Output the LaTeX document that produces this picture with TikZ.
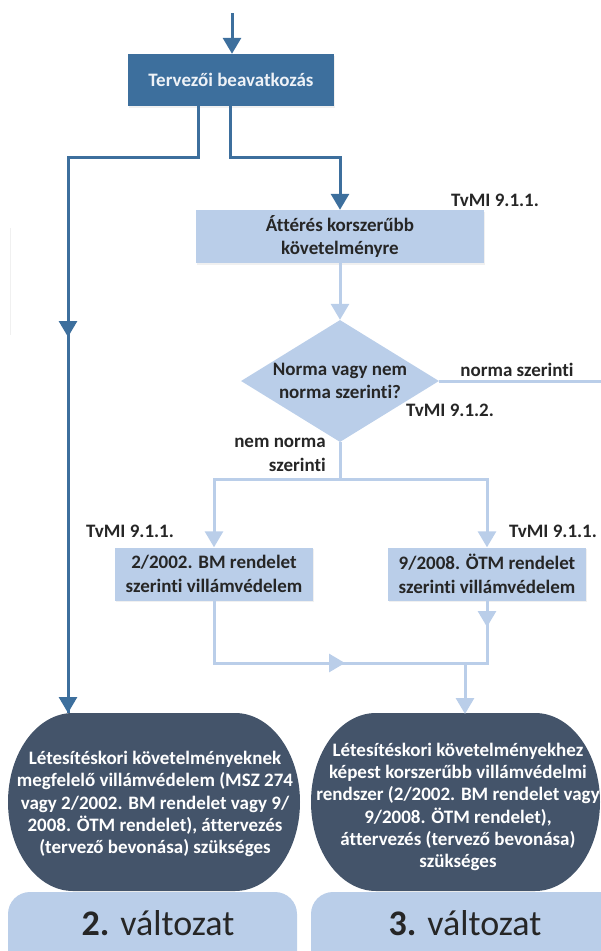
\documentclass[tikz,border=0pt]{standalone}
\usepackage{fontspec}
\setmainfont{Carlito}[Ligatures={NoCommon}]
\usetikzlibrary{arrows.meta,shapes.geometric,shadows}
\definecolor{darkblue}{RGB}{61,111,157}
\definecolor{lightblue}{RGB}{186,206,233}
\definecolor{lightln}{RGB}{186,206,233}
\definecolor{slate}{RGB}{68,84,106}
\definecolor{txt}{RGB}{38,38,38}
\definecolor{paletext}{RGB}{238,242,247}
\begin{document}
\begin{tikzpicture}[x=1pt,y=-1pt,
  every node/.style={font=\fontsize{19}{23.5}\selectfont\bfseries},
  softshadow/.style={drop shadow={opacity=0.12,shadow xshift=1.2pt,shadow yshift=-1.5pt}},
  darkbox/.style={fill=darkblue, text=paletext, minimum width=206pt, minimum height=52pt, inner sep=0pt, softshadow},
  lightbox/.style={fill=lightblue, text=txt, align=center, inner sep=0pt, softshadow},
  diabox/.style={diamond, fill=lightblue, minimum width=198pt, minimum height=122pt, inner sep=0pt},
  darkarrow/.style={draw=darkblue, line width=3pt, -{Triangle[width=18pt,length=16pt]}},
  lightarrow/.style={draw=lightln, line width=3pt, -{Triangle[width=18pt,length=16pt]}},
  darkplain/.style={draw=darkblue, line width=3pt},
  lightplain/.style={draw=lightln, line width=3pt},
  lbl/.style={text=txt, inner sep=0pt},
  ovaltext/.style={text=white, align=center, inner sep=0pt, font=\fontsize{19}{22.2}\selectfont\bfseries},
  vartext/.style={text=txt, inner sep=0pt, anchor=base, font=\fontsize{36}{40}\selectfont}
]
\useasboundingbox (0,0) rectangle (601,951);
\clip (0,0) rectangle (601,951);

% faint mark at left edge
\draw[black!6, line width=1pt] (10,228) -- (10,335);

% bottom variant boxes
\fill[lightblue, rounded corners=22pt] (8,892) rectangle (297,980);
\fill[lightblue, rounded corners=22pt] (311,892) rectangle (630,980);
\node[vartext] (v2) at (158,935) {\textbf{2.} \mdseries változat};
\node[vartext] (v3) at (465,935) {\textbf{3.} \mdseries változat};

% ovals
\fill[slate] (73,713) -- (235,713) arc[start angle=-90, end angle=90, x radius=65, y radius=89]
  -- (73,891) arc[start angle=90, end angle=270, x radius=65, y radius=89] -- cycle;
\fill[slate] (376,713) -- (535,713) arc[start angle=-90, end angle=90, x radius=65, y radius=89]
  -- (376,891) arc[start angle=90, end angle=270, x radius=65, y radius=89] -- cycle;
\node[ovaltext] (ovL) at (155,804) {Létesítéskori követelményeknek\\megfelelő villámvédelem (MSZ 274\\vagy 2/2002. BM rendelet vagy 9/\\2008. ÖTM rendelet), áttervezés\\(tervező bevonása) szükséges};
\node[ovaltext] (ovR) at (458,807) {Létesítéskori követelményekhez\\képest korszerűbb villámvédelmi\\rendszer (2/2002. BM rendelet vagy\\9/2008. ÖTM rendelet),\\áttervezés (tervező bevonása)\\szükséges};
\coordinate (ovLtop) at (68,713);
\coordinate (ovRtop) at (465,714);

% boxes
\coordinate (in) at (232,13);
\node[darkbox] (tb) at (231,80) {Tervezői beavatkozás};
\node[lightbox, minimum width=288pt, minimum height=53pt] (att) at (340,236.5) {Áttérés korszerűbb\\követelményre};
\node[diabox, label={[lbl, align=center]center:Norma vagy nem\\norma szerinti?}] (dia) at (340,381) {};
\node[lightbox, minimum width=198pt, minimum height=53pt] (bm) at (214,574) {2/2002. BM rendelet\\szerinti villámvédelem};
\node[lightbox, minimum width=198pt, minimum height=53pt] (otm) at (487,574) {9/2008. ÖTM rendelet\\szerinti villámvédelem};

% labels
\node[lbl] (t1) at (495,200) {TvMI 9.1.1.};
\node[lbl] (ns) at (517,370) {norma szerinti};
\node[lbl] (t2) at (450,410) {TvMI 9.1.2.};
\node[lbl, align=right, anchor=east] (nns) at (326,455) {nem norma\\szerinti};
\node[lbl] (t3) at (130,531) {TvMI 9.1.1.};
\node[lbl] (t4) at (553,531) {TvMI 9.1.1.};

% dark connectors
\coordinate (lmid) at (68,337);
\draw[darkarrow] (in) -- (tb.north -| in);
\draw[darkplain] ([xshift=-33pt]tb.south) |- (68,157) -- (ovLtop);
\draw[darkarrow] ([xshift=-33pt]tb.south) |- (68,157) -- (lmid);
\draw[darkarrow] (lmid) -- (ovLtop);
\draw[darkarrow] ([xshift=-1pt]tb.south) |- (340,157) -- (att.north);

% light connectors
\coordinate (fork) at (340,479);
\coordinate (rend) at (610,381);
\coordinate (hmid) at (345,663);
\coordinate (vmid) at (487,627);
\coordinate (jn) at (465,663);
\draw[lightarrow] (att.south) -- (dia.north);
\draw[lightplain] (dia.east) -- (rend);
\draw[lightplain] (dia.south) -- (fork);
\draw[lightarrow] (fork) -| (bm.north);
\draw[lightarrow] (fork) -| (otm.north);
\draw[lightplain] (bm.south) |- (487,663) -- (otm.south);
\draw[lightarrow] (bm.south) |- (hmid);
\draw[lightarrow] (otm.south) -- (vmid);
\draw[lightarrow] (jn) -- (ovRtop);
\end{tikzpicture}
\end{document}
